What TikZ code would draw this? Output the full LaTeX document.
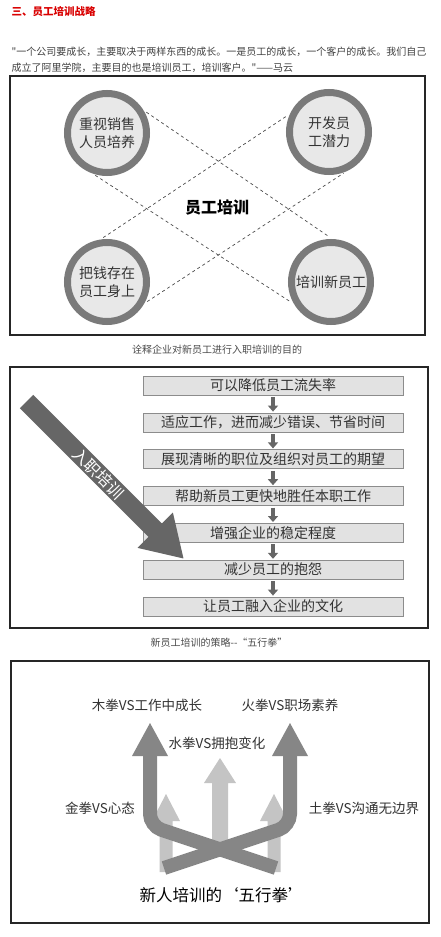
\documentclass[tikz,border=0pt]{standalone}
\usepackage{fontspec}
\setmainfont{Noto Sans CJK SC}
\newfontfamily\plaincjk{Noto Sans CJK SC}
\usetikzlibrary{arrows.meta}
\definecolor{ringgray}{HTML}{7A7A7A}
\definecolor{boxgray}{HTML}{E2E2E2}
\definecolor{darkfist}{HTML}{868686}
\definecolor{lightfist}{HTML}{C4C4C4}
\definecolor{entrygray}{HTML}{666666}

\begin{document}
\begin{tikzpicture}[x=1pt,y=-1pt,
	frame/.style={draw=black!85,line width=1.6pt},
	goal/.style={circle,draw=ringgray,line width=7pt,fill=black!9,minimum size=79pt,inner sep=0pt,align=center,font=\fontsize{14}{18}\selectfont,text=black!80},
	stepbox/.style={draw=black!45,fill=boxgray,minimum width=260pt,minimum height=19pt,inner sep=0pt,font=\fontsize{14}{16}\selectfont,text=black!80},
	flowarrow/.style={draw=entrygray,line width=4pt,-{Triangle[length=6pt,width=10pt]},shorten <=2pt,shorten >=1pt},
	caption/.style={font=\plaincjk\fontsize{10}{12}\selectfont,text=black!70},
	fist/.style={font=\fontsize{13.5}{16}\selectfont,text=black!80}]
	\useasboundingbox (0,0) rectangle (440,937);
	\fill[white] (0,0) rectangle (440,937);
	\node[anchor=west,text=red!85!black,font=\bfseries\fontsize{10.5}{12}\selectfont](title)at(8,12){三、员工培训战略};
	\node[anchor=west,text=black!75,font=\plaincjk\fontsize{10}{12}\selectfont](quote1)at(8,52){"一个公司要成长，主要取决于两样东西的成长。一是员工的成长，一个客户的成长。我们自己};
	\node[anchor=west,text=black!75,font=\plaincjk\fontsize{10}{12}\selectfont](quote2)at(8,68){成立了阿里学院，主要目的也是培训员工，培训客户。"——马云};

	\draw[frame] (10,76) rectangle (425,335);
	\node[goal](tl)at(107,133){重视销售\\人员培养};
	\node[goal](tr)at(329,132){开发员\\工潜力};
	\node[goal](bl)at(107,282){把钱存在\\员工身上};
	\node[goal](br)at(331,282){培训新员工};
	\node[font=\bfseries\fontsize{16}{18}\selectfont](core)at(217,207){员工培训};
	\begin{scope}[draw=black!70,dashed,line width=0.7pt,shorten <=3.5pt,shorten >=3.5pt]
		\draw (tl.32) -- (br.88);
		\draw (tl.-110) -- (br.211);
		\draw (bl.99) -- (tr.155);
		\draw (bl.-30) -- (tr.-66);
	\end{scope}
	\node[caption](cap1)at(217,350){诠释企业对新员工进行入职培训的目的};

	\draw[frame] (10,367) rectangle (428,628);
	\foreach \txt [count=\i] in {可以降低员工流失率,适应工作，进而减少错误、节省时间,展现清晰的职位及组织对员工的期望,帮助新员工更快地胜任本职工作,增强企业的稳定程度,减少员工的抱怨,让员工融入企业的文化}
		\node[stepbox](b\i)at(273,{385.5+36.8*(\i-1)}){\txt};
	\foreach \i [evaluate=\i as \j using int(\i+1)] in {1,...,6}
		\draw[flowarrow] (b\i) -- (b\j);
	\begin{scope}[shift={(26.5,401.5)},rotate=-45]
		\fill[entrygray] (0,-9.5) -- (182,-9.5) -- (182,-25) -- (222,0) -- (182,25) -- (182,9.5) -- (0,9.5) -- cycle;
		\node[text=white,font=\fontsize{16}{18}\selectfont,rotate=-45](entry)at(102,0){入职培训};
	\end{scope}
	\node[caption](cap2)at(219,643){新员工培训的策略--“五行拳”};

	\draw[frame] (11,661) rectangle (429,923);
	\foreach \x/\tip/\base/\hh/\sh/\bot in {220/758/783/16/8/853,166/794/821/14/6.5/872,274/794/821/14/6.5/872}
		\fill[lightfist] (\x,\tip) -- ({\x+\hh},\base) -- ({\x+\sh},\base) -- ({\x+\sh},\bot) -- ({\x-\sh},\bot) -- ({\x-\sh},\base) -- ({\x-\hh},\base) -- cycle;
	\draw[darkfist,line width=14pt,rounded corners=12pt] (150,755) -- (150,826) -- (276,868);
	\draw[darkfist,line width=14pt,rounded corners=12pt] (290,755) -- (290,826) -- (164,868);
	\fill[darkfist] (150,723) -- (168,756) -- (132,756) -- cycle;
	\fill[darkfist] (290,723) -- (308,756) -- (272,756) -- cycle;
	\node[fist](wood)at(147,705){木拳VS工作中成长};
	\node[fist](fire)at(290,705){火拳VS职场素养};
	\node[fist](water)at(217,743){水拳VS拥抱变化};
	\node[fist](metal)at(100,808){金拳VS心态};
	\node[fist](earth)at(364,808){土拳VS沟通无边界};
	\node[font=\fontsize{16.5}{18}\selectfont](fists)at(222,895){新人培训的‘五行拳’};
\end{tikzpicture}
\end{document}
